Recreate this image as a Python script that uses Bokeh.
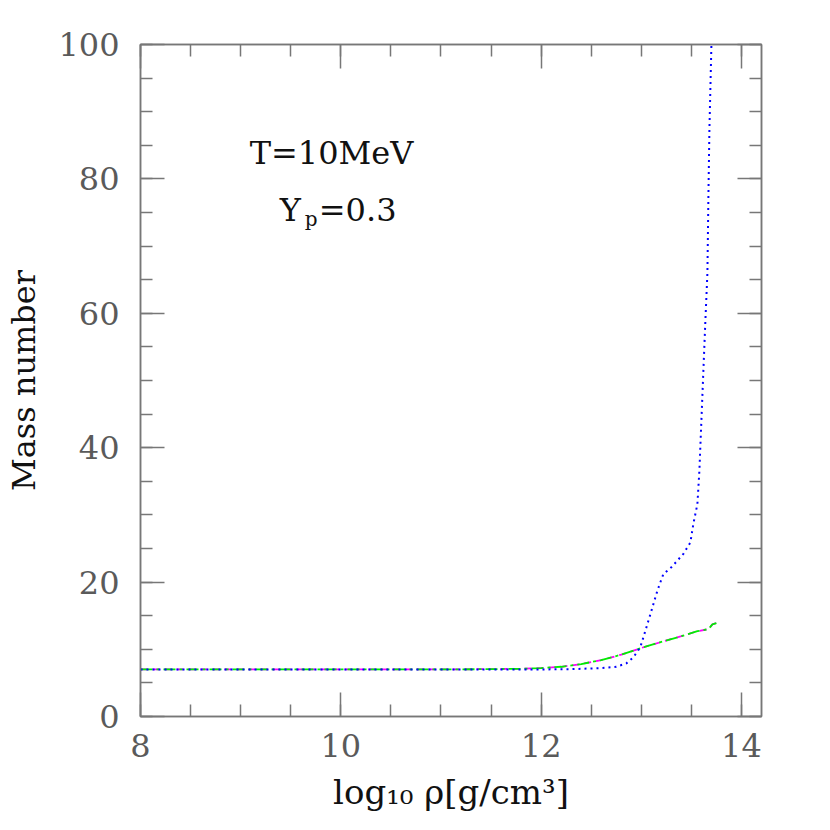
from bokeh.plotting import figure
from bokeh.models import Range1d, LinearAxis, SingleIntervalTicker, Label, CustomJSTickFormatter
from bokeh.embed import file_html
from bokeh.resources import INLINE

# ---- data ----
green_x = [8.0, 9.0, 10.0, 11.0, 11.5, 11.8, 12.0, 12.2, 12.4, 12.6, 12.8, 13.0, 13.2, 13.4, 13.56, 13.67, 13.71, 13.75]
green_y = [7.0, 7.0, 7.0, 7.0, 7.05, 7.1, 7.2, 7.4, 7.8, 8.4, 9.2, 10.2, 11.1, 11.95, 12.7, 13.0, 13.7, 13.9]

magenta_x = [8.0, 9.0, 10.0, 11.0, 11.5, 11.8, 12.0, 12.2, 12.4, 12.6, 12.8, 13.0, 13.2, 13.4, 13.56, 13.67, 13.71, 13.75]
magenta_y = [7.0, 7.0, 7.0, 7.0, 7.05, 7.1, 7.2, 7.4, 7.8, 8.4, 9.2, 10.2, 11.1, 11.95, 12.7, 13.0, 13.7, 13.9]

blue_x = [8.0, 9.0, 10.0, 11.0, 11.5, 12.0, 12.3, 12.6, 12.75, 12.85, 12.92, 12.99, 13.07, 13.16, 13.22,
          13.30, 13.42, 13.49, 13.52, 13.56, 13.58, 13.60, 13.62, 13.64, 13.66, 13.67, 13.68, 13.70]
blue_y = [7.0, 7.0, 7.0, 7.0, 7.0, 7.0, 7.05, 7.2, 7.4, 7.9, 8.8, 10.3, 14.2, 18.7, 21.2,
          22.2, 24.2, 25.9, 28.7, 31.6, 36.6, 44.1, 51.6, 59.0, 66.0, 77.5, 87.4, 100.0]

x_range = (8, 14.2)
y_range = (0, 100)
x_label = "log\u2081\u2080 \u03c1[g/cm\u00b3]"
y_label = "Mass number"

FONT = "DejaVu Serif"
AX = "#777777"

p = figure(width=814, height=814, output_backend="svg", toolbar_location=None,
           x_range=Range1d(*x_range), y_range=Range1d(*y_range),
           x_axis_type=None, y_axis_type=None,
           min_border_left=140, min_border_right=53, min_border_top=44, min_border_bottom=98)
p.xgrid.visible = False
p.ygrid.visible = False
p.outline_line_color = AX
p.outline_line_width = 1.5
p.background_fill_color = "white"
p.border_fill_color = "white"


def style(ax):
    ax.axis_line_color = AX
    ax.axis_line_width = 1.5
    ax.major_tick_line_color = AX
    ax.minor_tick_line_color = AX
    ax.major_tick_line_width = 1.5
    ax.minor_tick_line_width = 1.5
    ax.major_tick_in = 24
    ax.major_tick_out = 0
    ax.minor_tick_in = 12
    ax.minor_tick_out = 0
    ax.major_label_text_font = FONT
    ax.major_label_text_font_size = "32px"
    ax.major_label_text_color = "#5a5a5a"
    ax.axis_label_text_font = FONT
    ax.axis_label_text_font_size = "32px"
    ax.axis_label_text_font_style = "normal"
    ax.axis_label_text_color = "#111111"


xt = lambda: SingleIntervalTicker(interval=2, num_minor_ticks=4)
yt = lambda: SingleIntervalTicker(interval=20, num_minor_ticks=4)

xb = LinearAxis(ticker=xt(), axis_label=x_label)
style(xb)
xb.major_label_standoff = 17
xb.axis_label_standoff = 12
xb.axis_label_text_font_size = "34px"
p.add_layout(xb, "below")

yl = LinearAxis(ticker=yt(), axis_label=y_label)
style(yl)
yl.major_label_standoff = 21
yl.axis_label_standoff = 12
p.add_layout(yl, "left")

blank = "return ''"
xa = LinearAxis(ticker=xt(), formatter=CustomJSTickFormatter(code=blank))
style(xa)
xa.major_label_standoff = 0
p.add_layout(xa, "above")

yr = LinearAxis(ticker=yt(), formatter=CustomJSTickFormatter(code=blank))
style(yr)
yr.major_label_standoff = 0
p.add_layout(yr, "right")

p.line(magenta_x, magenta_y, line_color="#ff00ff", line_width=1.8, line_dash="7 5")
p.line(green_x, green_y, line_color="#00ee00", line_width=1.8, line_dash="12 4 3 4")
p.line(blue_x, blue_y, line_color="#0000ff", line_width=2, line_dash="2 4")

p.add_layout(Label(x=9.09, y=83.8, text="T=10MeV", text_font=FONT, text_font_size="32px",
                   text_color="#111111", text_baseline="alphabetic"))
p.add_layout(Label(x=9.39, y=75.3, text="Y", text_font=FONT, text_font_size="32px",
                   text_color="#111111", text_baseline="alphabetic"))
p.add_layout(Label(x=9.64, y=74.0, text="p", text_font=FONT, text_font_size="20px",
                   text_color="#111111", text_baseline="alphabetic"))
p.add_layout(Label(x=9.78, y=75.3, text="=0.3", text_font=FONT, text_font_size="32px",
                   text_color="#111111", text_baseline="alphabetic"))

open("out.html", "w").write(file_html(p, INLINE))
